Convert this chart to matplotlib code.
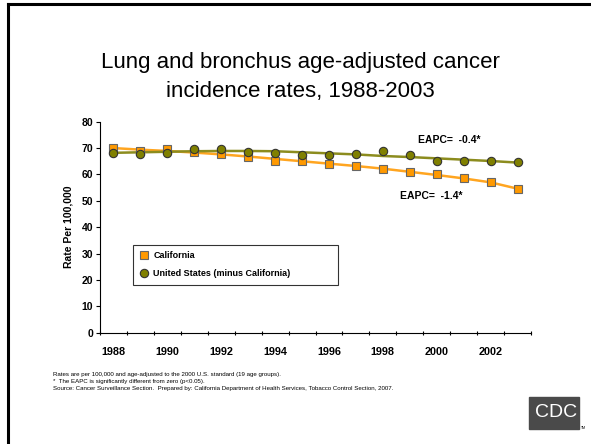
import numpy as np
import matplotlib.pyplot as plt
from matplotlib.patches import Rectangle
from matplotlib.lines import Line2D

years = [1988, 1989, 1990, 1991, 1992, 1993, 1994, 1995, 1996, 1997, 1998, 1999, 2000, 2001, 2002, 2003]
ca_rate = [70.2, 69.0, 69.7, 68.4, 67.8, 66.5, 65.2, 65.2, 64.1, 63.2, 62.1, 60.9, 60.0, 58.8, 57.1, 54.4]
us_rate = [68.0, 67.6, 68.1, 69.7, 69.7, 68.6, 68.0, 67.5, 67.5, 67.8, 69.0, 67.4, 65.0, 65.0, 65.2, 64.6]
ca_trend = [70.0, 69.4, 68.9, 68.3, 67.6, 66.8, 65.9, 65.0, 64.1, 63.2, 62.2, 61.0, 59.8, 58.5, 57.0, 54.6]
us_trend = [68.2, 68.4, 68.6, 68.8, 68.9, 68.9, 68.8, 68.4, 68.0, 67.6, 67.0, 66.6, 66.1, 65.6, 65.1, 64.5]
yticks = [0, 10, 20, 30, 40, 50, 60, 70, 80]
xlabels = ['1988', '1990', '1992', '1994', '1996', '1998', '2000', '2002']

plt.rcParams['font.family'] = ['Liberation Sans', 'DejaVu Sans']

fig = plt.figure(figsize=(5.91, 4.44), dpi=100)
W, H = 591., 444.

# slide frame (top and left only)
fig.add_artist(Line2D([8/W, 1], [1-4.5/H, 1-4.5/H], color='black', lw=2.2, transform=fig.transFigure))
fig.add_artist(Line2D([8/W, 8/W], [0, 1-4.5/H], color='black', lw=2.2, transform=fig.transFigure))

fig.text(300/W, 1-77/H, 'Lung and bronchus age-adjusted cancer\nincidence rates, 1988-2003',
         ha='center', va='center', fontsize=16, linespacing=1.55)

ax = fig.add_axes([100/W, 1-332.7/H, 431/W, 211/H])
x = np.arange(len(years))

ax.plot(x, ca_trend, color='#FFA520', lw=1.8, zorder=2)
ax.plot(x, us_trend, color='#8C8C1E', lw=1.8, zorder=2)
ax.plot(x, ca_rate, ls='none', marker='s', ms=5.5, mfc='#FF9900', mec='#666666', mew=0.8, zorder=3,
        label='California')
ax.plot(x, us_rate, ls='none', marker='o', ms=6, mfc='#808000', mec='#333333', mew=0.8, zorder=3,
        label='United States (minus California)')

ax.set_xlim(-0.5, len(years) - 0.5)
ax.set_ylim(0, 80)
ax.set_yticks(yticks)
ax.set_yticklabels([str(v) for v in yticks], fontweight='bold', fontsize=7.5)
ax.set_xticks(np.arange(-0.5, len(years), 1.0))
ax.set_xticklabels([])
ax.set_xticks(x[::2], minor=True)
ax.set_xticklabels(xlabels, minor=True, fontweight='bold', fontsize=7.8)
ax.tick_params(axis='x', which='minor', length=0, pad=10)
ax.tick_params(axis='x', which='major', length=3, direction='inout', width=0.8)
ax.tick_params(axis='y', length=3, direction='out', width=0.8, pad=2)
for s in ['top', 'right']:
    ax.spines[s].set_visible(False)
for s in ['left', 'bottom']:
    ax.spines[s].set_linewidth(0.8)
ax.set_ylabel('Rate Per 100,000', fontweight='bold', fontsize=7.5, labelpad=6)

ax.text(11.3, 73.1, 'EAPC=  -0.4*', fontweight='bold', fontsize=7.5, va='center')
ax.text(10.65, 51.8, 'EAPC=  -1.4*', fontweight='bold', fontsize=7.5, va='center')

leg = ax.legend(loc='upper left', bbox_to_anchor=(32.7/431, 1-(284-121.7)/211, 205/431, 39/211),
                mode='expand', frameon=True, fancybox=False, shadow=False,
                prop={'weight': 'bold', 'size': 6.5}, handletextpad=0.4, labelspacing=1.0,
                borderpad=0.7, handlelength=1.2, borderaxespad=0)
leg.get_frame().set_edgecolor('black')
leg.get_frame().set_linewidth(0.8)

foot = ('Rates are per 100,000 and age-adjusted to the 2000 U.S. standard (19 age groups).\n'
        '*  The EAPC is significantly different from zero (p<0.05).\n'
        'Source: Cancer Surveillance Section.  Prepared by: California Department of Health Services, Tobacco Control Section, 2007.')
fig.text(53/W, 1-381.5/H, foot, fontsize=4.45, va='center', ha='left', linespacing=1.45,
         family=['Liberation Sans Narrow', 'Liberation Sans'])

# CDC logo mark
fig.add_artist(Rectangle((529/W, 1-429/H), 50/W, 32/H, color='#4a4a4a', transform=fig.transFigure))
fig.text(556/W, 1-412/H, 'CDC', color='white', fontsize=14, ha='center', va='center')
fig.text(581/W, 1-428/H, 'TM', fontsize=2.5, ha='left', va='center')

fig.savefig('out.png', dpi=100)
